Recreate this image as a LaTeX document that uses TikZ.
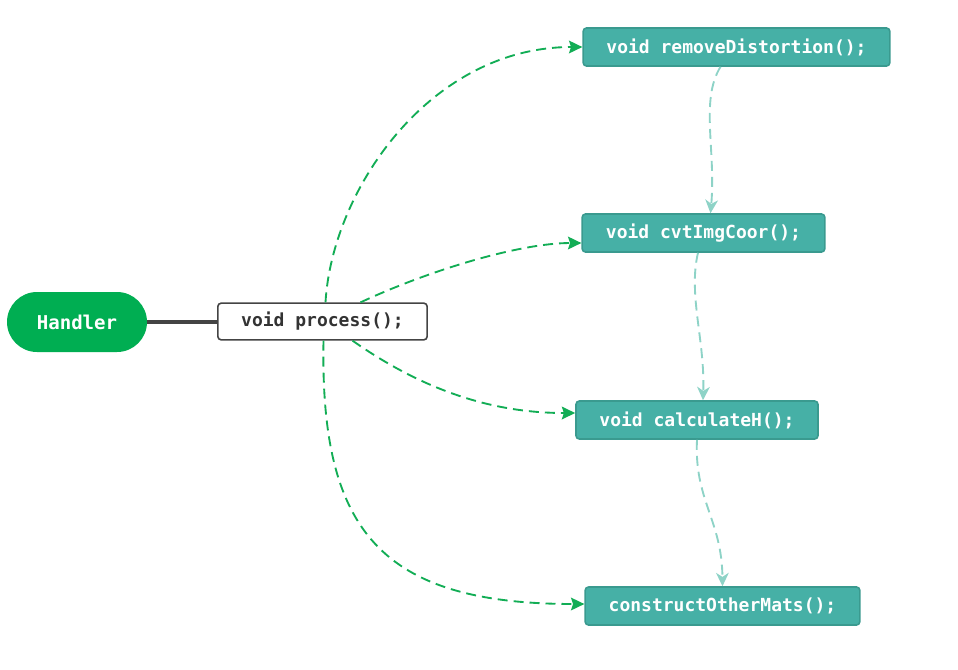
\documentclass[tikz,border=0pt]{standalone}
\usepackage{fontspec}
\setmonofont{DejaVu Sans Mono}
\usetikzlibrary{arrows.meta,calc}
\definecolor{hgreen}{HTML}{00AE52}
\definecolor{agreen}{HTML}{12AD55}
\definecolor{tealfill}{HTML}{46B0A6}
\definecolor{tealdraw}{HTML}{3A9A8F}
\definecolor{ltteal}{HTML}{8ED3C7}
\definecolor{dgray}{HTML}{444444}
\begin{document}
\begin{tikzpicture}[x=0.75pt,y=-0.75pt,
  fn/.style={draw=tealdraw,line width=1.2pt,fill=tealfill,rounded corners=2.5pt,
    text=white,font=\ttfamily\bfseries\fontsize{13.5}{15}\selectfont,inner sep=0pt,
    minimum height=28.5pt},
  proc/.style={draw=dgray,line width=1.2pt,fill=white,rounded corners=2.5pt,
    text=black!80,font=\ttfamily\bfseries\fontsize{13.5}{15}\selectfont,inner sep=0pt,
    minimum height=27.5pt,minimum width=157pt},
  hand/.style={fill=hgreen,rounded corners=22.5pt,text=white,
    font=\ttfamily\bfseries\fontsize{14.3}{16}\selectfont,minimum width=105pt,minimum height=45pt,inner sep=0pt},
  garrow/.style={draw=agreen,line width=1.4pt,dash pattern=on 7.5pt off 4.5pt,
    -{Stealth[length=10pt,width=9.5pt,inset=1.5pt]}},
  tarrow/.style={draw=ltteal,line width=1.4pt,dash pattern=on 7.5pt off 4.5pt,
    -{Stealth[length=10pt,width=9.5pt,inset=3pt]}}]
\useasboundingbox (0,0) rectangle (958,669);
\node[hand] (h) at (77,322) {Handler};
\node[proc] (p) at (322.5,321.5) {void process();};
\node[fn,minimum width=230pt] (rd) at (736.5,47) {void removeDistortion();};
\node[fn,minimum width=182pt] (cv) at (703.5,233) {void cvtImgCoor();};
\node[fn,minimum width=181.5pt] (ch) at (697,420) {void calculateH();};
\node[fn,minimum width=206pt] (co) at (722.5,606) {constructOtherMats();};
\draw[dgray,line width=2.3pt] (h.east) -- (h.east -| p.west);
\draw[garrow] ($(p.north)+(3,0)$) .. controls (332,190) and (430,47) .. (rd.west);
\draw[garrow] ($(p.north)+(38,0)$) .. controls (430,270) and (520,243) .. ($(cv.west)+(0,10)$);
\draw[garrow] ($(p.south)+(30,0)$) .. controls (430,395) and (500,413) .. ($(ch.west)+(0,-7)$);
\draw[garrow] ($(p.south)+(1,0)$) .. controls (320,530) and (380,604) .. ($(co.west)+(0,-2)$);
\draw[tarrow] ($(rd.south)+(-16,0)$) .. controls (700,100) and (716,150) .. ($(cv.north)+(7,0)$);
\draw[tarrow] ($(cv.south)+(-5.5,0)$) .. controls (688,295) and (705,340) .. ($(ch.north)+(6,0)$);
\draw[tarrow] (ch.south) .. controls (694,500) and (722,520) .. ($(co.north)+(0,0)$);
\end{tikzpicture}
\end{document}
